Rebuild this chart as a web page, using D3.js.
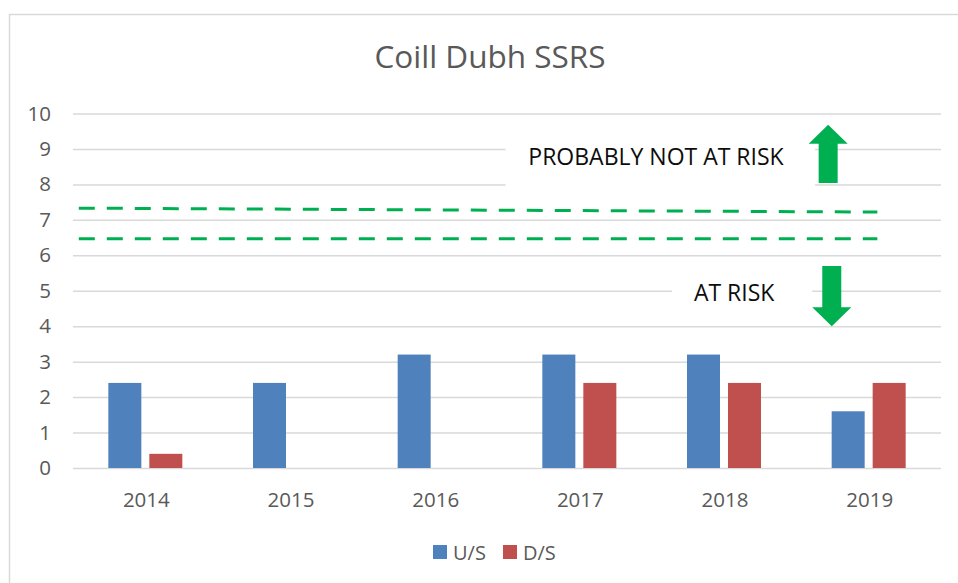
<!DOCTYPE html>
<html>
<head>
<meta charset="utf-8">
<script src="https://cdn.jsdelivr.net/npm/d3@7"></script>
<style>
  body { margin: 0; background: #fff; }
  svg { display: block; font-family: "Open Sans", sans-serif; }
</style>
</head>
<body>
<svg id="chart" width="958" height="583"></svg>
<script>
// data
const years = ["2014", "2015", "2016", "2017", "2018", "2019"];
const seriesNames = ["U/S", "D/S"];
const usValues = [2.4, 2.4, 3.2, 3.2, 3.2, 1.6];
const dsValues = [0.4, 0, 0, 2.4, 2.4, 2.4];
const yTicks = [0, 1, 2, 3, 4, 5, 6, 7, 8, 9, 10];
// threshold lines, x given as category index
const upperLine = [{ i: -0.46, v: 7.33 }, { i: 5.06, v: 7.22 }];
const lowerLine = [{ i: -0.46, v: 6.47 }, { i: 5.06, v: 6.47 }];
const labelText = ["PROBABLY NOT AT RISK", "AT RISK"];
const labelPos = [{ i: 3.53, v: 8.77 }, { i: 4.07, v: 4.95 }];
const labelBox = [{ i0: 2.49, i1: 4.63, v0: 9.7, v1: 7.6 }, { i0: 3.64, i1: 4.61, v0: 5.73, v1: 4.32 }];
const arrows = [{ i: 4.72, from: 8.04, to: 9.68 }, { i: 4.745, from: 5.7, to: 4.0 }];

const colors = { "U/S": "#4F81BD", "D/S": "#C0504D" };
const green = "#00B050";
const grid = "#D9D9D9";
const textCol = "#595959";

const margin = { left: 73, right: 941, top: 113.5, bottom: 468 };

const svg = d3.select("#chart");

// outer border
svg.append("rect")
  .attr("x", 9.5).attr("y", 14.5)
  .attr("width", 960).attr("height", 600)
  .attr("fill", "none").attr("stroke", grid).attr("stroke-width", 1.5);

svg.append("text")
  .attr("x", 490).attr("y", 68)
  .attr("text-anchor", "middle")
  .attr("fill", textCol)
  .style("font-size", "31.5px")
  .text("Coill Dubh SSRS");

const x = d3.scaleBand().domain(years).range([margin.left, margin.right]);
const xIdx = d3.scaleLinear().domain([-0.5, 5.5]).range([margin.left, margin.right]);
const xSub = d3.scaleBand().domain(seriesNames)
  .range([x.bandwidth() / 2 - 37, x.bandwidth() / 2 + 37])
  .paddingInner(0.195);
const y = d3.scaleLinear().domain([0, 10]).range([margin.bottom, margin.top]);

// gridlines + y labels
const yAxis = svg.append("g")
  .attr("transform", `translate(${margin.left},0)`)
  .call(d3.axisLeft(y).tickValues(yTicks)
    .tickSize(-(margin.right - margin.left)).tickPadding(22));
yAxis.select(".domain").remove();
yAxis.selectAll(".tick line").attr("stroke", grid).attr("stroke-width", 1.5);
yAxis.selectAll(".tick text")
  .attr("fill", textCol).style("font-size", "20.5px").style("font-family", "Open Sans");

// x labels
svg.append("g").selectAll("text").data(years).join("text")
  .attr("x", d => x(d) + x.bandwidth() / 2 + 1)
  .attr("y", 507)
  .attr("text-anchor", "middle")
  .attr("fill", textCol)
  .style("font-size", "20.5px")
  .text(d => d);

// bars
const rows = years.map((yr, k) => ({ year: yr, "U/S": usValues[k], "D/S": dsValues[k] }));
svg.append("g").selectAll("g").data(rows).join("g")
  .attr("transform", d => `translate(${x(d.year)},0)`)
  .selectAll("rect")
  .data(d => seriesNames.map(s => ({ s, v: d[s] })).filter(e => e.v > 0))
  .join("rect")
  .attr("x", d => xSub(d.s))
  .attr("width", xSub.bandwidth())
  .attr("y", d => y(d.v))
  .attr("height", d => y(0) - y(d.v))
  .attr("fill", d => colors[d.s]);

// white boxes behind labels (hide gridlines)
svg.append("g").selectAll("rect").data(labelBox).join("rect")
  .attr("x", d => xIdx(d.i0)).attr("width", d => xIdx(d.i1) - xIdx(d.i0))
  .attr("y", d => y(d.v0)).attr("height", d => y(d.v1) - y(d.v0))
  .attr("fill", "#fff");

// dashed threshold lines
const line = d3.line().x(d => xIdx(d.i)).y(d => y(d.v));
svg.append("g").selectAll("path").data([upperLine, lowerLine]).join("path")
  .attr("d", line)
  .attr("fill", "none")
  .attr("stroke", green)
  .attr("stroke-width", 3)
  .attr("stroke-dasharray", "16 12");

// labels
svg.append("g").selectAll("text").data(labelText).join("text")
  .attr("x", (d, k) => xIdx(labelPos[k].i))
  .attr("y", (d, k) => y(labelPos[k].v))
  .attr("dy", "0.36em")
  .attr("text-anchor", "middle")
  .attr("fill", "#0D0D0D")
  .style("font-size", "23px")
  .text(d => d);

// arrows
svg.append("g").selectAll("path").data(arrows).join("path")
  .attr("d", d => {
    const cx = xIdx(d.i), y0 = y(d.from), y1 = y(d.to);
    const dir = y1 < y0 ? -1 : 1;
    const sw = 9.5, hw = 19.5, hh = 19;
    const yh = y1 - dir * hh;
    return `M${cx - sw},${y0} L${cx - sw},${yh} L${cx - hw},${yh} L${cx},${y1} L${cx + hw},${yh} L${cx + sw},${yh} L${cx + sw},${y0} Z`;
  })
  .attr("fill", green);

// legend
const legend = svg.append("g").attr("transform", "translate(433,545)");
const items = legend.selectAll("g").data(seriesNames).join("g")
  .attr("transform", (d, k) => `translate(${k * 70},0)`);
items.append("rect").attr("width", 14).attr("height", 14).attr("fill", d => colors[d]);
items.append("text")
  .attr("x", 20).attr("y", 14.5)
  .attr("fill", textCol)
  .style("font-size", "20px")
  .text(d => d);
</script>
</body>
</html>
